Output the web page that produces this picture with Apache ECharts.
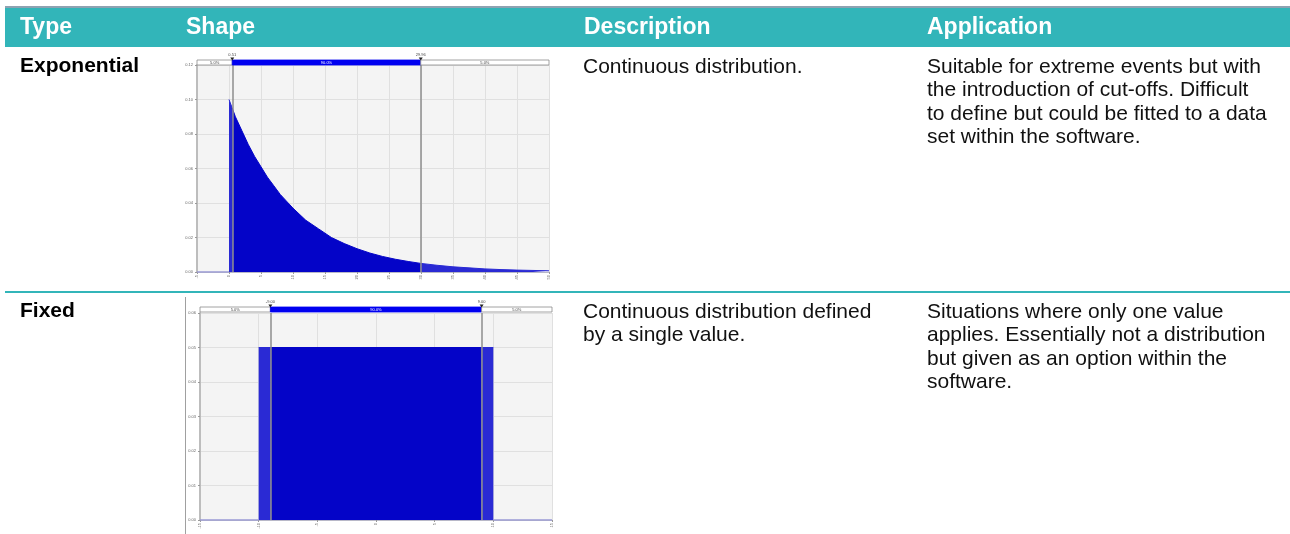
<!DOCTYPE html>
<html>
<head>
<meta charset="utf-8">
<script src="https://cdn.jsdelivr.net/npm/echarts@6/dist/echarts.min.js"></script>
<style>
html,body{margin:0;padding:0;background:#fff;}
#c{width:1290px;height:534px;}
</style>
</head>
<body>
<div id="c"></div>
<script>
// ---------- table text ----------
const headers = ['Type', 'Shape', 'Description', 'Application'];
const rowTypes = ['Exponential', 'Fixed'];
const rowDescriptions = ['Continuous distribution.', 'Continuous distribution defined\nby a single value.'];
const rowApplications = [
  'Suitable for extreme events but with\nthe introduction of cut-offs. Difficult\nto define but could be fitted to a data\nset within the software.',
  'Situations where only one value\napplies. Essentially not a distribution\nbut given as an option within the\nsoftware.'
];

// ---------- exponential chart data ----------
const expX =       [0,     0.51,  1,     2,     3,     4,     5,     6,     7,     8,     10,    12,    14,    16,    18,     20,     22,    24,    26,     28,     29.96,  32.5,   35,     37.5,   40,     42.5,   45,     47.5,   50];
const expDensity = [0.100, 0.095, 0.090, 0.082, 0.074, 0.067, 0.061, 0.055, 0.050, 0.045, 0.037, 0.030, 0.025, 0.020, 0.0165, 0.0135, 0.011, 0.009, 0.0074, 0.0061, 0.0050, 0.0039, 0.0030, 0.0024, 0.0018, 0.0014, 0.0011, 0.0009, 0.0007];
const expZeroX = [-5, 0];
const expPercentiles = [0.51, 29.96];
const expBandLabels = ['5.0%', '90.0%', '5.0%'];
const expRange = [-5, 50];

// ---------- uniform ("Fixed") chart data ----------
const uniX = [-10, -9, 9, 10];
const uniDensity = [0.05, 0.05, 0.05, 0.05];
const uniZeroLeftX = [-15, -10];
const uniZeroRightX = [10, 15];
const uniPercentiles = [-9.00, 9.00];
const uniBandLabels = ['5.0%', '90.0%', '5.0%'];
const uniRange = [-15, 15];

// ---------- build ----------
const FONT = '"Liberation Sans", Arial, Helvetica, sans-serif';
const CORE = '#0404c8';
const TAIL = '#2a2ad4';
const ZERO = '#9a9ad6';
const BANDBLUE = '#0000f0';

function pts(xs, ys) { return xs.map((x, i) => [x, ys[i]]); }
const expPts = pts(expX, expDensity);
const expHead = expPts.filter(p => p[0] <= expPercentiles[0]);
const expCore = expPts.filter(p => p[0] >= expPercentiles[0] && p[0] <= expPercentiles[1]);
const expTail = expPts.filter(p => p[0] >= expPercentiles[1]);
const uniPts = pts(uniX, uniDensity);
const uniLeft = uniPts.filter(p => p[0] <= uniPercentiles[0]);
const uniCore = uniPts.filter(p => p[0] >= uniPercentiles[0] && p[0] <= uniPercentiles[1]);
const uniRight = uniPts.filter(p => p[0] >= uniPercentiles[1]);

function mainX(idx, range) {
  return {
    type: 'value', gridIndex: idx, min: range[0], max: range[1], interval: 5,
    axisLine: {show: true, onZero: false, lineStyle: {color: '#b8b8c8', width: 1}},
    axisTick: {show: true, length: 2, lineStyle: {color: '#999'}},
    axisLabel: {fontSize: 4, color: '#666', rotate: 90, margin: 3, fontFamily: FONT},
    splitLine: {show: true, lineStyle: {color: '#e0e0e0', width: 1}}
  };
}
function mainY(idx, max, interval) {
  return {
    type: 'value', gridIndex: idx, min: 0, max: max, interval: interval,
    axisLine: {show: true, onZero: false, lineStyle: {color: '#bdbdbd', width: 2}},
    axisTick: {show: true, length: 2, lineStyle: {color: '#999'}},
    axisLabel: {fontSize: 4, color: '#666', margin: 4, fontFamily: FONT, formatter: v => v.toFixed(2)},
    splitLine: {show: true, lineStyle: {color: '#e0e0e0', width: 1}}
  };
}
function bandX(idx, range) {
  return {type: 'value', gridIndex: idx, min: range[0], max: range[1], show: false};
}
function bandY(idx) {
  return {type: 'value', gridIndex: idx, min: 0, max: 1, show: false};
}
function areaSeries(xi, data, color) {
  return {
    type: 'line', xAxisIndex: xi, yAxisIndex: xi, data: data, symbol: 'none', smooth: false,
    lineStyle: {color: color, width: 1}, areaStyle: {color: color, opacity: 1}, silent: true, z: 3
  };
}
function zeroSeries(xi, xs) {
  return {
    type: 'line', xAxisIndex: xi, yAxisIndex: xi, data: xs.map(x => [x, 0]), symbol: 'none',
    lineStyle: {color: ZERO, width: 1.5}, silent: true, z: 4
  };
}
function pctLines(xi, pcts) {
  return {
    type: 'line', xAxisIndex: xi, yAxisIndex: xi, data: [], silent: true, z: 5,
    markLine: {
      silent: true, symbol: 'none', label: {show: false},
      lineStyle: {color: '#8e8e8e', width: 1.5, type: 'solid'},
      data: pcts.map(p => ({xAxis: p}))
    }
  };
}
function bandSeries(xi, range, pcts, labels) {
  const segs = [[range[0], pcts[0], 0], [pcts[0], pcts[1], 1], [pcts[1], range[1], 2]];
  return {
    type: 'custom', xAxisIndex: xi, yAxisIndex: xi, data: segs, silent: true, z: 6,
    renderItem: function (params, api) {
      const a = api.coord([api.value(0), 1]);
      const b = api.coord([api.value(1), 0]);
      const k = api.value(2);
      const blue = k === 1;
      return {
        type: 'group',
        children: [{
          type: 'rect',
          shape: {x: a[0], y: a[1], width: b[0] - a[0], height: b[1] - a[1]},
          style: {fill: blue ? BANDBLUE : '#ffffff', stroke: blue ? BANDBLUE : '#8a8a8a', lineWidth: 0.8}
        }, {
          type: 'text',
          style: {
            text: labels[k], x: (a[0] + b[0]) / 2, y: (a[1] + b[1]) / 2,
            align: 'center', verticalAlign: 'middle', font: '4px ' + FONT,
            fill: blue ? '#ffffff' : '#444'
          }
        }]
      };
    }
  };
}
function markerSeries(xi, pcts) {
  return {
    type: 'custom', xAxisIndex: xi, yAxisIndex: xi, data: pcts.map(p => [p]), silent: true, z: 7,
    renderItem: function (params, api) {
      const v = api.value(0);
      const t = api.coord([v, 1]);
      return {
        type: 'group',
        children: [{
          type: 'polygon',
          shape: {points: [[t[0] - 2, t[1] - 2.5], [t[0] + 2, t[1] - 2.5], [t[0], t[1] + 0.5]]},
          style: {fill: '#222'}
        }, {
          type: 'text',
          style: {
            text: v.toFixed(2), x: t[0], y: t[1] - 3,
            align: 'center', verticalAlign: 'bottom', font: '4px ' + FONT, fill: '#444'
          }
        }]
      };
    }
  };
}

const graphics = [
  {type: 'rect', shape: {x: 5, y: 6, width: 1285, height: 2}, style: {fill: '#8ea2b1'}, silent: true},
  {type: 'rect', shape: {x: 5, y: 8, width: 1285, height: 39}, style: {fill: '#32b5b9'}, silent: true},
  {type: 'rect', shape: {x: 5, y: 291, width: 1285, height: 2}, style: {fill: '#32b5b9'}, silent: true},
  {type: 'line', shape: {x1: 185.5, y1: 297, x2: 185.5, y2: 534}, style: {stroke: '#a0a0a0', lineWidth: 1}, silent: true}
];
const headerX = [20, 186, 584, 927];
headers.forEach((h, i) => graphics.push({
  type: 'text', silent: true,
  style: {text: h, x: headerX[i], y: 28, verticalAlign: 'middle', font: 'bold 23px ' + FONT, fill: '#ffffff'}
}));
const rowTop = [54, 299];
rowTypes.forEach((t, i) => {
  graphics.push({type: 'text', silent: true,
    style: {text: t, x: 20, y: rowTop[i], verticalAlign: 'top', lineHeight: 24, font: 'bold 21px ' + FONT, fill: '#000'}});
  graphics.push({type: 'text', silent: true,
    style: {text: rowDescriptions[i], x: 583, y: rowTop[i] + 1, verticalAlign: 'top', lineHeight: 23.5, font: '21px ' + FONT, fill: '#111'}});
  graphics.push({type: 'text', silent: true,
    style: {text: rowApplications[i], x: 927, y: rowTop[i] + 1, verticalAlign: 'top', lineHeight: 23.5, font: '21px ' + FONT, fill: '#111'}});
});

const option = {
  animation: false,
  backgroundColor: '#ffffff',
  graphic: graphics,
  grid: [
    {left: 197, top: 65, width: 352, height: 207, show: true, backgroundColor: '#f4f4f4', borderWidth: 0},
    {left: 197, top: 60, width: 352, height: 5, show: false},
    {left: 200, top: 313, width: 352, height: 207, show: true, backgroundColor: '#f4f4f4', borderWidth: 0},
    {left: 200, top: 307, width: 352, height: 5, show: false}
  ],
  xAxis: [mainX(0, expRange), bandX(1, expRange), mainX(2, uniRange), bandX(3, uniRange)],
  yAxis: [mainY(0, 0.12, 0.02), bandY(1), mainY(2, 0.06, 0.01), bandY(3)],
  series: [
    zeroSeries(0, expZeroX),
    areaSeries(0, expHead, TAIL),
    areaSeries(0, expCore, CORE),
    areaSeries(0, expTail, TAIL),
    pctLines(0, expPercentiles),
    bandSeries(1, expRange, expPercentiles, expBandLabels),
    markerSeries(1, expPercentiles),
    zeroSeries(2, uniZeroLeftX),
    zeroSeries(2, uniZeroRightX),
    areaSeries(2, uniLeft, TAIL),
    areaSeries(2, uniCore, CORE),
    areaSeries(2, uniRight, TAIL),
    pctLines(2, uniPercentiles),
    bandSeries(3, uniRange, uniPercentiles, uniBandLabels),
    markerSeries(3, uniPercentiles)
  ]
};
const chart = echarts.init(document.getElementById('c'), null, {renderer: 'canvas'});
chart.setOption(option);
</script>
</body>
</html>
